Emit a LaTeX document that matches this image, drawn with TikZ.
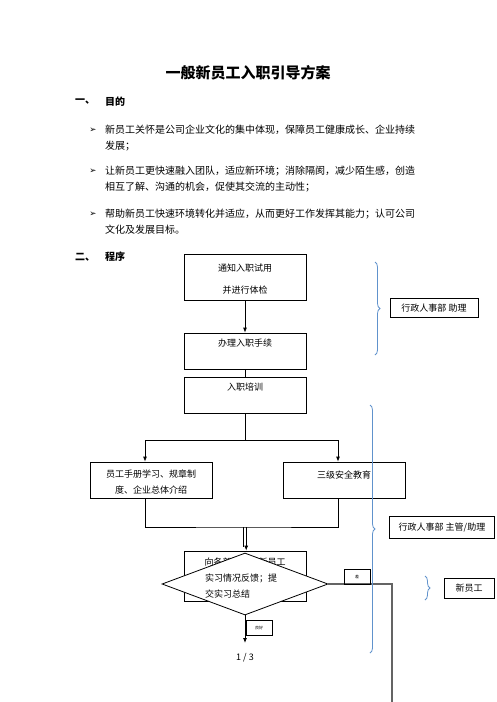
\documentclass[tikz,border=0pt]{standalone}
\usepackage{fontspec}
\setmainfont{Noto Sans CJK SC}
\newfontfamily\symfont{DejaVu Sans}
\usetikzlibrary{positioning,shapes.geometric,arrows.meta,decorations.pathreplacing}
\definecolor{bracecol}{RGB}{96,146,204}
\definecolor{exitcol}{RGB}{100,100,100}
\tikzset{
  box/.style={draw,line width=0.8pt,minimum width=122pt,minimum height=36pt,inner sep=0pt},
  txt/.style={inner sep=0pt,font=\fontsize{9}{16}\selectfont},
  para/.style={inner sep=0pt,anchor=west,align=left,font=\fontsize{10}{16}\selectfont},
  head/.style={inner sep=0pt,anchor=west,font=\fontsize{10}{12}\selectfont\bfseries},
  bulletmark/.style={inner sep=0pt,font=\symfont\fontsize{8.5}{9}\selectfont},
  tag/.style={draw,line width=0.8pt,inner sep=0pt,font=\fontsize{9}{11}\selectfont},
  mini/.style={draw,line width=0.6pt,inner sep=0pt,minimum width=26pt,minimum height=15pt,font=\fontsize{4}{5}\selectfont},
  grp/.style={draw=bracecol,line width=0.8pt,decorate,decoration={brace,amplitude=5pt}},
  line/.style={line width=0.8pt},
  flow/.style={line width=0.8pt,-{Latex[length=5pt,width=4pt]}}
}
\begin{document}
\begin{tikzpicture}[x=1pt,y=-1pt]
\useasboundingbox (0,0) rectangle (496,702);
% title and text
\node[inner sep=0pt,font=\fontsize{15}{18}\selectfont\bfseries] (title) at (248,73) {一般新员工入职引导方案};
\node[head] (sec1) at (75,102) {一、};
\node[head] (aim) at (105,102) {目的};
\node[bulletmark] (m1) at (93,130) {➢};
\node[para] (p1) at (105,138) {新员工关怀是公司企业文化的集中体现，保障员工健康成长、企业持续\\发展；};
\node[bulletmark] (m2) at (93,171) {➢};
\node[para] (p2) at (105,179) {让新员工更快速融入团队，适应新环境；消除隔阂，减少陌生感，创造\\相互了解、沟通的机会，促使其交流的主动性；};
\node[bulletmark] (m3) at (93,214) {➢};
\node[para] (p3) at (105,222) {帮助新员工快速环境转化并适应，从而更好工作发挥其能力；认可公司\\文化及发展目标。};
\node[head] (sec2) at (75,257) {二、};
\node[head] (proc) at (105,257) {程序};

% flow boxes
\node[box,minimum height=46pt] (notify) at (245,277) {};
\node[txt,align=center,font=\fontsize{9}{22}\selectfont] (notifyt) at (245,279) {通知入职试用\\并进行体检};
\node[box] (handle) at (245,351) {};
\node[txt,below=6pt of handle.north] (handlet) {办理入职手续};
\node[box] (train) at (245,395) {};
\node[txt,below=6pt of train.north] (traint) {入职培训};
\node[box] (manual) at (151,480) {};
\node[txt,align=center] (manualt) at (151,482) {员工手册学习、规章制\\度、企业总体介绍};
\node[box] (safety) at (344,480) {};
\node[txt,below=9pt of safety.north] (safetyt) {三级安全教育};
\node[box,minimum height=50pt] (report) at (245,576) {};
\node[txt,below=7pt of report.north] (reportt) {向各部门反馈新员工};
\node[diamond,draw,fill=white,line width=0.8pt,minimum width=166pt,minimum height=62pt,inner sep=0pt] (decision) at (245,584) {};
\node[txt,align=left,anchor=west] (decisiont) at (205,586) {实习情况反馈；提\\交实习总结};

% connectors
\coordinate (split) at (245,440);
\coordinate (join) at (245,527);
\coordinate (next) at (245,643);
\coordinate (back) at (392,702);
\draw[flow] (notify) -- (handle);
\draw[line] (handle) -- (train);
\draw[line] (train) -- (split);
\draw[flow] (split) -| ([xshift=-6pt]manual.north);
\draw[flow] (split) -| ([xshift=-6pt]safety.north);
\draw[line] ([xshift=-6pt]manual.south) |- (join) -| ([xshift=-6pt]safety.south);
\draw[line] ([xshift=-1.2pt]join) -- ([xshift=-1.2pt,yshift=4pt]report.north);
\draw[flow] ([xshift=1.2pt]join) -- ([xshift=1.2pt]report.north);
\draw[flow] (decision.south) -- (next);
\draw[exitcol,line width=1.3pt] (decision.east) -| (back);
\node[mini] (good) at (259,628) {良好};
\node[mini] (bad) at (357,577) {差};
\node[txt] (page) at (245,658) {1 / 3};

% roles
\draw[grp] (375,262) -- (375,355);
\draw[grp] (370,405) -- (370,653);
\draw[grp] (425,576) -- (425,600);
\node[tag,minimum width=88pt,minimum height=19pt] (assist) at (434,308) {行政人事部 助理};
\node[tag,minimum width=105pt,minimum height=22pt] (mgr) at (442,527) {行政人事部 主管/助理};
\node[tag,minimum width=50pt,minimum height=20pt] (staff) at (469,588) {新员工};
\end{tikzpicture}
\end{document}
